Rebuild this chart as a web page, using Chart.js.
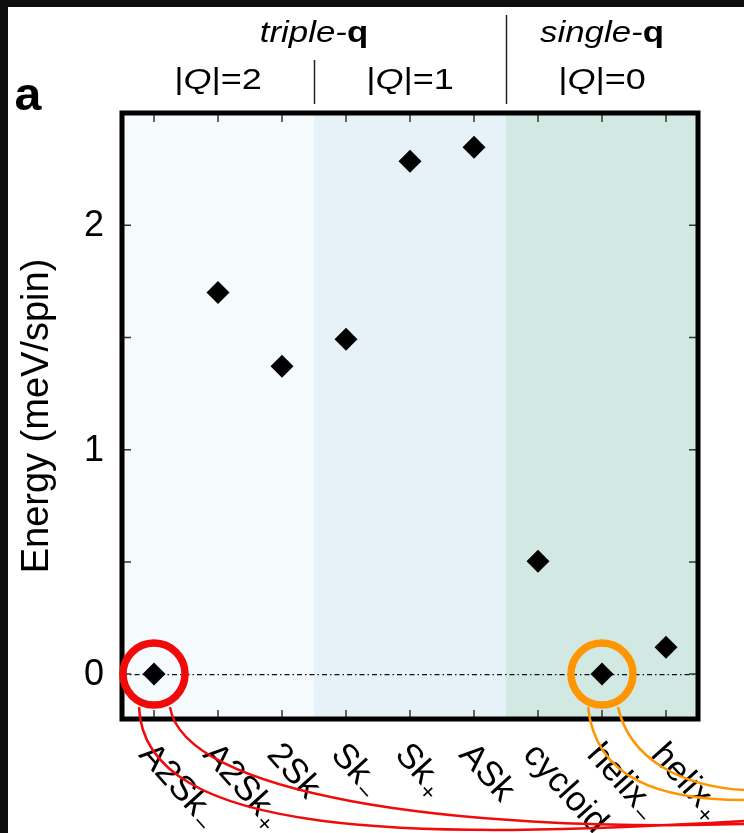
<!DOCTYPE html>
<html>
<head>
<meta charset="utf-8">
<title>Energy of magnetic states</title>
<script src="https://cdn.jsdelivr.net/npm/chart.js@4/dist/chart.umd.min.js"></script>
<style>
  html, body { margin: 0; padding: 0; background: #0e0e0e; }
  canvas { display: block; }
</style>
</head>
<body>
<canvas id="c" width="744" height="833"></canvas>
<script>
// Magnetic states (main name + subscript sign) and their energies
const stateNames = ['A2Sk', 'A2Sk', '2Sk', 'Sk', 'Sk', 'ASk', 'cycloid', 'helix', 'helix'];
const stateSubs  = ['\u2212', '+', '', '\u2212', '+', '', '', '\u2212', '+'];
const energies   = [0, 1.70, 1.372, 1.492, 2.285, 2.347, 0.503, 0, 0.12];

// Y axis ticks (meV/spin)
const yTickValues = [0, 0.5, 1, 1.5, 2];
const yTickLabels = ['0', '', '1', '', '2'];

// Shaded groups along the x axis: [from, to, colour]
const groupBands = [[-0.5, 2.5, '#f5fafc'], [2.5, 5.5, '#e6f2f7'], [5.5, 8.5, '#d1e9e2']];
// Group headers
const qLabels = [['2', 1], ['1', 4], ['0', 7]];
const typeLabels = [['triple', 2.5], ['single', 7]];
// Highlighted ground states
const highlighted = [[0, '#f00a0a'], [7, '#ff9500']];

const FONT = '"Liberation Sans", Arial, Helvetica, sans-serif';

function drawRich(ctx, parts, cx, y, size, sx) {
  ctx.save();
  ctx.translate(cx, y);
  ctx.scale(sx, 1);
  let total = 0;
  parts.forEach(p => { ctx.font = p.f + ' ' + size + 'px ' + FONT; p.w = ctx.measureText(p.t).width; total += p.w; });
  let x = -total / 2;
  ctx.textAlign = 'left';
  ctx.textBaseline = 'alphabetic';
  parts.forEach(p => { ctx.font = p.f + ' ' + size + 'px ' + FONT; ctx.fillText(p.t, x, 0); x += p.w; });
  ctx.restore();
}

const decorations = {
  id: 'decorations',
  beforeDraw(chart) {
    const ctx = chart.ctx;
    ctx.save();
    ctx.fillStyle = '#0e0e0e';
    ctx.fillRect(0, 0, chart.width, chart.height);
    ctx.fillStyle = '#ffffff';
    ctx.fillRect(8, 7, chart.width - 8, chart.height - 7);
    ctx.restore();
  },
  beforeDatasetsDraw(chart) {
    const ctx = chart.ctx, xs = chart.scales.x, ys = chart.scales.y, a = chart.chartArea;
    ctx.save();
    groupBands.forEach(([f, t, c]) => {
      const x0 = xs.getPixelForValue(f), x1 = xs.getPixelForValue(t);
      ctx.fillStyle = c;
      ctx.fillRect(x0, a.top, x1 - x0, a.bottom - a.top);
    });
    // zero reference line
    const y0 = ys.getPixelForValue(0);
    ctx.strokeStyle = '#111';
    ctx.lineWidth = 1.2;
    ctx.setLineDash([5, 3, 1.5, 3]);
    ctx.beginPath();
    ctx.moveTo(a.left, y0 + 0.5);
    ctx.lineTo(a.right, y0 + 0.5);
    ctx.stroke();
    ctx.setLineDash([]);
    // inward ticks
    ctx.strokeStyle = '#333';
    ctx.lineWidth = 1.5;
    const tl = 9;
    ctx.beginPath();
    stateNames.forEach((n, i) => {
      const x = xs.getPixelForValue(i);
      ctx.moveTo(x, a.bottom); ctx.lineTo(x, a.bottom - tl);
      ctx.moveTo(x, a.top); ctx.lineTo(x, a.top + tl);
    });
    yTickValues.forEach(v => {
      const y = ys.getPixelForValue(v);
      ctx.moveTo(a.left, y); ctx.lineTo(a.left + tl, y);
      ctx.moveTo(a.right, y); ctx.lineTo(a.right - tl, y);
    });
    ctx.stroke();
    ctx.restore();
  },
  afterDatasetsDraw(chart) {
    const ctx = chart.ctx, xs = chart.scales.x, ys = chart.scales.y, a = chart.chartArea;
    ctx.save();
    // frame
    ctx.strokeStyle = '#000';
    ctx.lineWidth = 5;
    ctx.strokeRect(a.left, a.top, a.right - a.left, a.bottom - a.top);

    // y tick labels
    ctx.fillStyle = '#000';
    ctx.font = '36px ' + FONT;
    ctx.textAlign = 'right';
    ctx.textBaseline = 'middle';
    yTickValues.forEach((v, i) => {
      if (yTickLabels[i]) ctx.fillText(yTickLabels[i], 104, ys.getPixelForValue(v) + 1);
    });

    // y title
    ctx.save();
    ctx.translate(48, 416);
    ctx.rotate(-Math.PI / 2);
    ctx.font = '38px ' + FONT;
    ctx.textAlign = 'center';
    ctx.textBaseline = 'alphabetic';
    ctx.fillText('Energy (meV/spin)', 0, 0);
    ctx.restore();

    // x labels, rotated clockwise
    const rot = 48 * Math.PI / 180;
    stateNames.forEach((n, i) => {
      ctx.save();
      ctx.translate(xs.getPixelForValue(i) - 9, a.bottom + 30);
      ctx.rotate(rot);
      ctx.textAlign = 'left';
      ctx.textBaseline = 'middle';
      ctx.font = '35px ' + FONT;
      ctx.fillText(n, 0, 0);
      const w = ctx.measureText(n).width;
      if (stateSubs[i]) {
        ctx.font = '24px ' + FONT;
        ctx.fillText(stateSubs[i], w + 2, 10);
      }
      ctx.restore();
    });

    // group headers
    ctx.fillStyle = '#000';
    typeLabels.forEach(([t, v]) => {
      drawRich(ctx, [{ t: t + '-', f: 'italic' }, { t: 'q', f: 'bold' }], xs.getPixelForValue(v), 42, 29, 1.2);
    });
    qLabels.forEach(([t, v]) => {
      drawRich(ctx, [{ t: '|', f: 'normal' }, { t: 'Q', f: 'italic' }, { t: '|=' + t, f: 'normal' }], xs.getPixelForValue(v), 89, 30, 1.2);
    });
    // separators between groups
    ctx.strokeStyle = '#222';
    ctx.lineWidth = 1.5;
    ctx.beginPath();
    const s1 = Math.round(xs.getPixelForValue(2.5)) + 0.5;
    const s2 = Math.round(xs.getPixelForValue(5.5)) + 0.5;
    ctx.moveTo(s1, 60); ctx.lineTo(s1, 104);
    ctx.moveTo(s2, 15); ctx.lineTo(s2, 104);
    ctx.stroke();

    // panel letter
    drawRich(ctx, [{ t: 'a', f: 'bold' }], 28, 110, 46, 1.05);
    ctx.restore();
  },
  afterDraw(chart) {
    const ctx = chart.ctx, xs = chart.scales.x, ys = chart.scales.y;
    ctx.save();
    highlighted.forEach(([i, col]) => {
      const cx = xs.getPixelForValue(i), cy = ys.getPixelForValue(energies[i]);
      ctx.strokeStyle = col;
      ctx.lineWidth = 7.5;
      ctx.beginPath();
      ctx.arc(cx, cy, 31, 0, Math.PI * 2);
      ctx.stroke();
      ctx.lineWidth = 2.5;
      ctx.beginPath();
      if (i === 0) {
        ctx.moveTo(cx - 15, cy + 33);
        ctx.bezierCurveTo(cx - 10, cy + 165, cx + 265, cy + 166, 744, cy + 147);
        ctx.moveTo(cx + 16, cy + 33);
        ctx.bezierCurveTo(cx + 30, cy + 120, cx + 295, cy + 158, 744, cy + 150);
      } else {
        ctx.moveTo(cx - 14, cy + 33);
        ctx.bezierCurveTo(cx - 6, cy + 106, cx + 60, cy + 126, 744, cy + 126);
        ctx.moveTo(cx + 16, cy + 33);
        ctx.bezierCurveTo(cx + 28, cy + 86, cx + 80, cy + 112, 744, cy + 116);
      }
      ctx.stroke();
    });
    ctx.restore();
  }
};

new Chart(document.getElementById('c'), {
  type: 'scatter',
  data: {
    datasets: [{
      data: energies.map((e, i) => ({ x: i, y: e })),
      pointStyle: 'rectRot',
      pointRadius: 11.5,
      backgroundColor: '#000',
      borderColor: '#000',
      borderWidth: 0
    }]
  },
  options: {
    responsive: false,
    animation: false,
    events: [],
    layout: { padding: { left: 122, top: 113, right: 46, bottom: 114 } },
    scales: {
      x: { type: 'linear', min: -0.5, max: 8.5, display: false },
      y: { type: 'linear', min: -0.2, max: 2.5, display: false }
    },
    plugins: { legend: { display: false }, tooltip: { enabled: false } }
  },
  plugins: [decorations]
});
</script>
</body>
</html>
